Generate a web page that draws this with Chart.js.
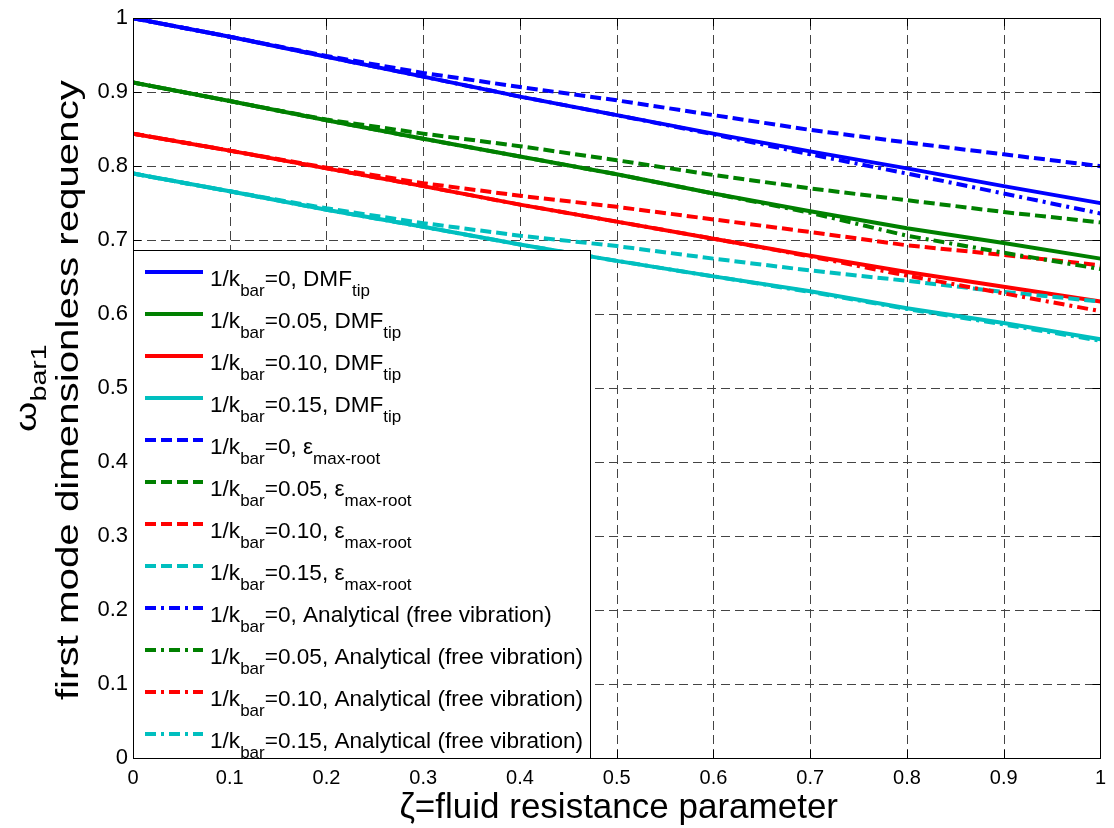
<!DOCTYPE html>
<html>
<head>
<meta charset="utf-8">
<script src="https://cdn.jsdelivr.net/npm/chart.js@4.4.1/dist/chart.umd.min.js"></script>
<style>
  html, body { margin: 0; padding: 0; background: #fff; }
</style>
</head>
<body>
<canvas id="chart" width="1114" height="828"></canvas>
<script>
// x values: fluid resistance parameter zeta
const zeta = [0, 0.1, 0.2, 0.3, 0.4, 0.5, 0.6, 0.7, 0.8, 0.9, 1.0];

// DMF_tip (solid)
const dmfK000 = [1.000, 0.975, 0.948, 0.921, 0.894, 0.869, 0.844, 0.820, 0.797, 0.773, 0.750];
const dmfK005 = [0.913, 0.888, 0.862, 0.837, 0.813, 0.789, 0.763, 0.739, 0.716, 0.696, 0.675];
const dmfK010 = [0.844, 0.821, 0.797, 0.773, 0.748, 0.725, 0.702, 0.679, 0.657, 0.637, 0.617];
const dmfK015 = [0.790, 0.766, 0.741, 0.718, 0.694, 0.672, 0.651, 0.631, 0.608, 0.588, 0.566];

// eps max-root (dashed)
const epsK000 = [1.000, 0.975, 0.949, 0.926, 0.907, 0.889, 0.869, 0.849, 0.832, 0.816, 0.800];
const epsK005 = [0.913, 0.888, 0.863, 0.844, 0.827, 0.808, 0.788, 0.770, 0.754, 0.738, 0.724];
const epsK010 = [0.844, 0.821, 0.798, 0.777, 0.760, 0.745, 0.728, 0.711, 0.693, 0.680, 0.666];
const epsK015 = [0.790, 0.766, 0.743, 0.723, 0.706, 0.692, 0.675, 0.659, 0.645, 0.630, 0.617];

// analytical free vibration (dash-dot)
const anaK000 = [1.000, 0.975, 0.948, 0.921, 0.894, 0.869, 0.843, 0.816, 0.790, 0.763, 0.736];
const anaK005 = [0.913, 0.888, 0.862, 0.837, 0.813, 0.789, 0.763, 0.737, 0.706, 0.683, 0.661];
const anaK010 = [0.844, 0.821, 0.797, 0.773, 0.748, 0.725, 0.702, 0.678, 0.652, 0.628, 0.604];
const anaK015 = [0.790, 0.766, 0.741, 0.718, 0.694, 0.672, 0.651, 0.630, 0.607, 0.586, 0.564];

const kLabels = ["0", "0.05", "0.10", "0.15"];
const methodNames = ["DMF", "\u03b5", "Analytical (free vibration)"];
const methodSubs = ["tip", "max-root", ""];
const seriesValues = [
  [dmfK000, dmfK005, dmfK010, dmfK015],
  [epsK000, epsK005, epsK010, epsK015],
  [anaK000, anaK005, anaK010, anaK015]
];

const xTicks = [0, 0.1, 0.2, 0.3, 0.4, 0.5, 0.6, 0.7, 0.8, 0.9, 1];
const yTicks = [0, 0.1, 0.2, 0.3, 0.4, 0.5, 0.6, 0.7, 0.8, 0.9, 1];

const colors = ["#0000ff", "#008000", "#ff0000", "#00bfbf"];
const dashes = [[], [11, 5], [11, 5, 3, 5]];
const FONT = '"Liberation Sans", Arial, Helvetica, sans-serif';

var datasets = [];
for (let m = 0; m < 3; m++) {
  for (let k = 0; k < 4; k++) {
    datasets.push({
      label: "1/k_bar=" + kLabels[k] + ", " + methodNames[m],
      kText: kLabels[k],
      mText: methodNames[m],
      mSub: methodSubs[m],
      data: zeta.map((z, i) => ({ x: z, y: seriesValues[m][k][i] })),
      borderColor: colors[k],
      backgroundColor: colors[k],
      borderWidth: 4,
      borderDash: dashes[m],
      borderCapStyle: "butt",
      pointRadius: 0,
      tension: 0,
      fill: false,
      order: 12 - datasets.length
    });
  }
}

function fmt(v) {
  return String(Number(v.toFixed(1)));
}

// draw text pieces with subscripts, returns width
function drawRich(ctx, parts, x, y, size, subSize, subDrop, measureOnly) {
  let cx = x;
  for (const p of parts) {
    ctx.font = (p.sub ? subSize : size) + "px " + FONT;
    if (!measureOnly) ctx.fillText(p.t, cx, y + (p.sub ? subDrop : 0));
    cx += ctx.measureText(p.t).width;
  }
  return cx - x;
}

const frame = {
  id: "frame",
  beforeDatasetsDraw(chart) {
    const { ctx, chartArea: { left, right, top, bottom }, scales: { x, y } } = chart;
    ctx.save();
    ctx.strokeStyle = "#444";
    ctx.lineWidth = 1;
    ctx.setLineDash([9, 5]);
    for (const v of xTicks) {
      const px = Math.round(x.getPixelForValue(v)) + 0.5;
      if (v === 0 || v === 1) continue;
      ctx.beginPath(); ctx.moveTo(px, bottom); ctx.lineTo(px, top); ctx.stroke();
    }
    for (const v of yTicks) {
      const py = Math.round(y.getPixelForValue(v)) + 0.5;
      if (v === 0 || v === 1) continue;
      ctx.beginPath(); ctx.moveTo(left, py); ctx.lineTo(right, py); ctx.stroke();
    }
    ctx.restore();
  },
  afterDatasetsDraw(chart) {
    const { ctx, chartArea: { left, right, top, bottom }, scales: { x, y } } = chart;
    ctx.save();
    ctx.strokeStyle = "#000";
    ctx.lineWidth = 1;
    ctx.setLineDash([]);
    const tl = 8;
    ctx.beginPath();
    for (const v of xTicks) {
      const px = Math.round(x.getPixelForValue(v)) + 0.5;
      ctx.moveTo(px, bottom); ctx.lineTo(px, bottom - tl);
      ctx.moveTo(px, top); ctx.lineTo(px, top + tl);
    }
    for (const v of yTicks) {
      const py = Math.round(y.getPixelForValue(v)) + 0.5;
      ctx.moveTo(left, py); ctx.lineTo(left + tl, py);
      ctx.moveTo(right, py); ctx.lineTo(right - tl, py);
    }
    ctx.stroke();
    ctx.strokeRect(Math.round(left) + 0.5, Math.round(top) + 0.5,
      Math.round(right - left), Math.round(bottom - top));
    ctx.restore();
  },
  afterDraw(chart) {
    const { ctx, chartArea: { left, right, top, bottom } } = chart;
    ctx.save();

    // legend
    const boxRight = 590, boxTop = 250;
    ctx.fillStyle = "#fff";
    ctx.fillRect(left, boxTop, boxRight - left, bottom - boxTop);
    ctx.strokeStyle = "#000";
    ctx.lineWidth = 1;
    ctx.setLineDash([]);
    ctx.strokeRect(Math.round(left) + 0.5, boxTop + 0.5, boxRight - Math.round(left), Math.round(bottom) - boxTop);

    ctx.textAlign = "left";
    ctx.textBaseline = "alphabetic";
    chart.data.datasets.forEach((ds, i) => {
      const ly = 272 + i * 42;
      ctx.strokeStyle = ds.borderColor;
      ctx.lineWidth = 4;
      ctx.lineCap = "butt";
      ctx.setLineDash(ds.borderDash);
      ctx.beginPath(); ctx.moveTo(left + 12, ly); ctx.lineTo(left + 70, ly); ctx.stroke();
      ctx.setLineDash([]);
      ctx.fillStyle = "#000";
      const parts = [
        { t: "1/k" }, { t: "bar", sub: true },
        { t: "=" + ds.kText + ", " + ds.mText }
      ];
      if (ds.mSub) parts.push({ t: ds.mSub, sub: true });
      drawRich(ctx, parts, left + 77, ly + 14, 22.6, 17, 9.5);
    });

    // x title
    ctx.fillStyle = "#000";
    ctx.font = "35px " + FONT;
    ctx.textAlign = "center";
    ctx.fillText("\u03b6=fluid resistance parameter", (left + right) / 2 + 2, 818);

    // y title (stretched along text like the reference)
    const yMid = (top + bottom) / 2;
    const line2 = "first mode dimensionless requency";
    ctx.font = "31px " + FONT;
    const w2 = ctx.measureText(line2).width;
    const sx = 620 / w2;
    ctx.save();
    ctx.translate(78, yMid + 2);
    ctx.rotate(-Math.PI / 2);
    ctx.scale(sx, 1);
    ctx.textAlign = "center";
    ctx.fillText(line2, 0, 0);
    ctx.restore();

    const wParts = [{ t: "\u03c9" }, { t: "bar1", sub: true }];
    ctx.save();
    ctx.translate(36, yMid);
    ctx.rotate(-Math.PI / 2);
    ctx.scale(sx, 1);
    ctx.textAlign = "left";
    const ww = drawRich(ctx, wParts, 0, 0, 30, 22, 10, true);
    drawRich(ctx, wParts, -ww / 2, 0, 30, 22, 10, false);
    ctx.restore();

    ctx.restore();
  }
};

const config = {
  type: "line",
  data: { datasets: datasets },
  options: {
    responsive: false,
    animation: false,
    devicePixelRatio: 1,
    layout: { padding: { left: 0, top: 14, right: 7, bottom: 0 } },
    plugins: {
      legend: { display: false },
      tooltip: { enabled: false },
      title: { display: false }
    },
    scales: {
      x: {
        type: "linear",
        min: 0,
        max: 1,
        afterFit: (scale) => { scale.height = 70; },
        afterBuildTicks: (scale) => { scale.ticks = xTicks.map(v => ({ value: v })); },
        grid: { display: false, drawTicks: false },
        border: { display: false },
        ticks: {
          autoSkip: false,
          maxRotation: 0,
          padding: 8,
          color: "#000",
          font: { family: FONT, size: 20 },
          callback: (v) => fmt(v)
        }
      },
      y: {
        type: "linear",
        min: 0,
        max: 1,
        afterFit: (scale) => { scale.width = 133; },
        afterBuildTicks: (scale) => { scale.ticks = yTicks.map(v => ({ value: v })); },
        grid: { display: false, drawTicks: false },
        border: { display: false },
        ticks: {
          autoSkip: false,
          padding: 5,
          color: "#000",
          font: { family: FONT, size: 22 },
          callback: (v) => fmt(v)
        }
      }
    }
  },
  plugins: [frame]
};

const myChart = new Chart(document.getElementById("chart"), config);
</script>
</body>
</html>
